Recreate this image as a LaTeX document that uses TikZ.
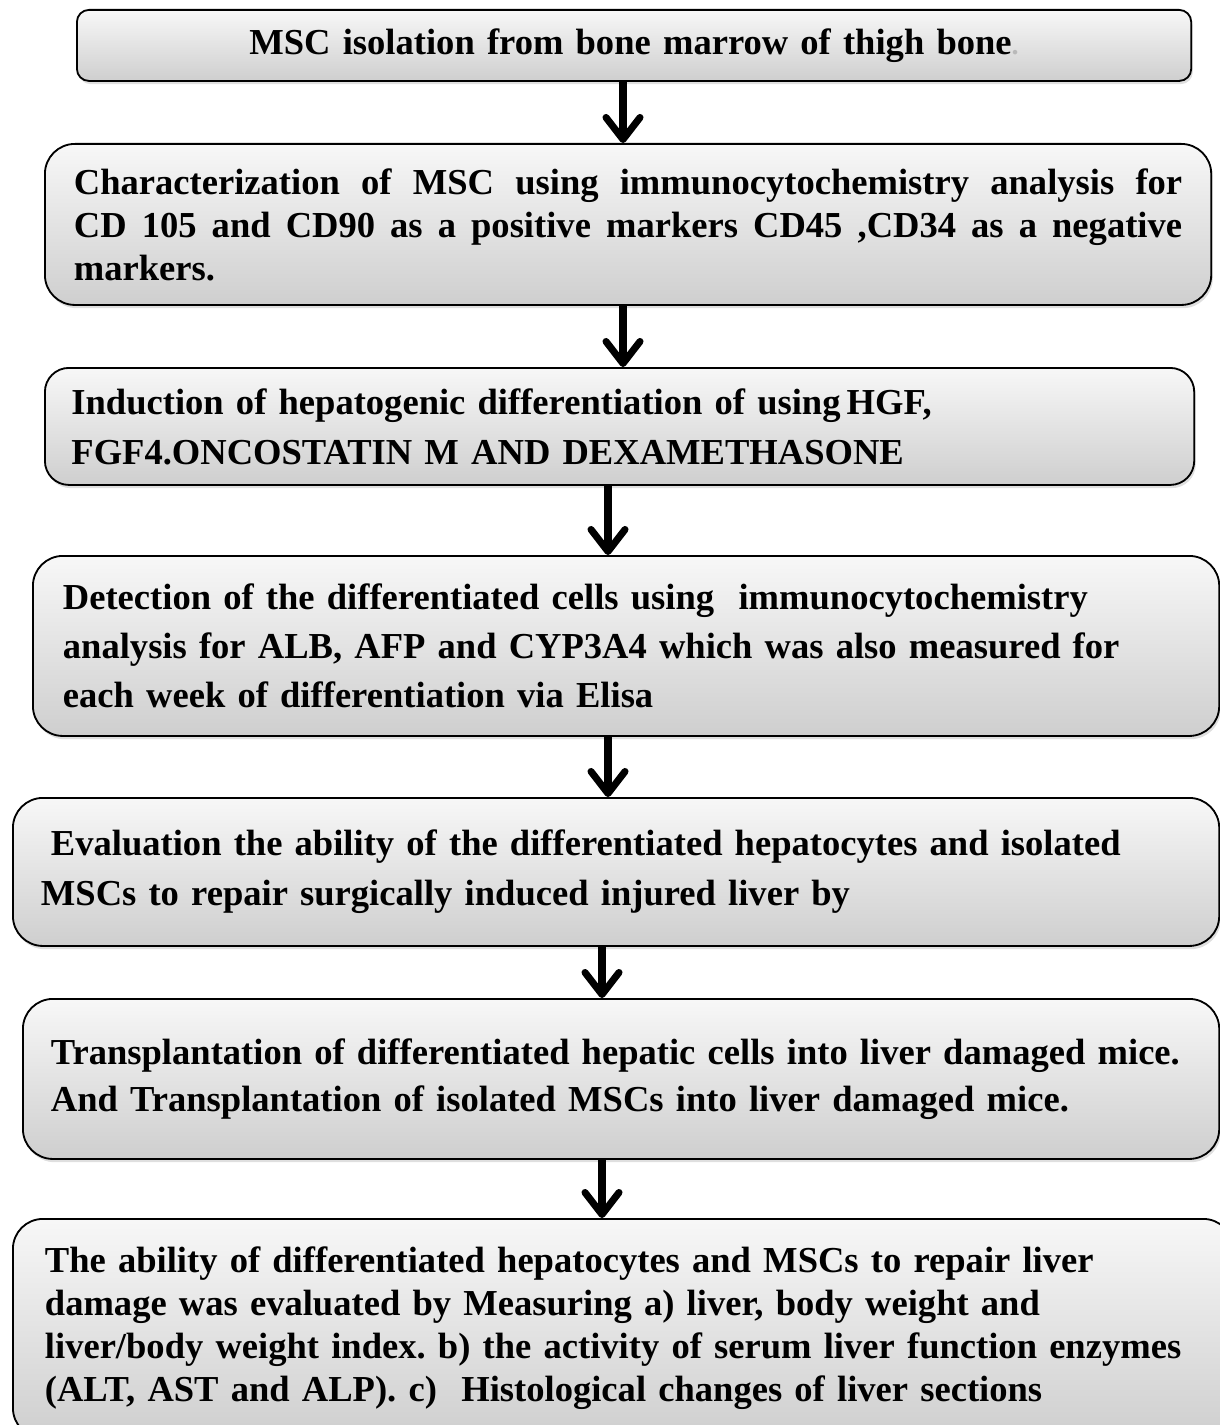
\documentclass[tikz,border=0pt]{standalone}
\usepackage{fontspec}
\setmainfont{Liberation Serif}
\frenchspacing
\usetikzlibrary{arrows.meta,shadows}

\begin{document}
\begin{tikzpicture}[
  x=0.025cm, y=-0.025cm,
  stepbox/.style={draw, line width=1.3pt, top color=gray!6, bottom color=gray!38,
    drop shadow={opacity=0.25, shadow xshift=0.04cm, shadow yshift=-0.08cm},
    anchor=north west, inner ysep=0pt, align=left, text=black,
    font=\bfseries\fontsize{26}{33}\selectfont},
  flow/.style={line width=5pt, -{Straight Barb[round,length=0.55cm,width=0.85cm]}}
]
  \useasboundingbox (0,0) rectangle (1220,1425);
  \node[stepbox, rounded corners=0.3cm, minimum width=27.85cm, minimum height=1.775cm,
    text width=26.5cm, align=center] (isolate) at (76,9)
    {\raisebox{-0.08cm}{MSC isolation from bone marrow of thigh bone{\color{gray!55}\fontsize{20}{20}\selectfont.}}};
  \node[stepbox, rounded corners=0.75cm, minimum width=29.15cm, minimum height=4.025cm,
    inner xsep=0.725cm, text width=27.7cm, align=justify,
    font=\bfseries\fontsize{26}{30.6}\selectfont] (charact) at (44,143)
    {Characterization of MSC using immunocytochemistry analysis for\linebreak
     CD 105 and CD90 as a positive markers CD45 ,CD34 as a negative\linebreak
     markers.};
  \node[stepbox, rounded corners=0.6cm, minimum width=28.725cm, minimum height=2.925cm,
    inner xsep=0.65cm, text width=27.4cm,
    font=\bfseries\fontsize{26}{35.6}\selectfont] (induct) at (44,367)
    {Induction of hepatogenic differentiation of using\,HGF,\\
     FGF4.ONCOSTATIN M AND DEXAMETHASONE};
  \node[stepbox, rounded corners=0.75cm, minimum width=29.65cm, minimum height=4.5cm,
    inner xsep=0.75cm, text width=28.15cm,
    font=\bfseries\fontsize{26}{34.9}\selectfont] (detect) at (32,555)
    {Detection of the differentiated cells using \ immunocytochemistry\\
     analysis for ALB, AFP and CYP3A4 which was also measured for\\
     each week of differentiation via Elisa};
  \node[stepbox, rounded corners=0.75cm, minimum width=30.15cm, minimum height=3.7cm,
    inner xsep=0.7cm, text width=28.75cm,
    font=\bfseries\fontsize{26}{35.6}\selectfont] (evaluate) at (12,797)
    {\hspace*{0.25cm}Evaluation the ability of the differentiated hepatocytes and isolated\\
     MSCs to repair surgically induced injured liver by};
  \node[stepbox, rounded corners=0.75cm, minimum width=29.9cm, minimum height=4cm,
    inner xsep=0.7cm, text width=28.5cm,
    font=\bfseries\fontsize{26}{33.4}\selectfont] (transplant) at (22,998)
    {Transplantation of differentiated hepatic cells into liver damaged mice.\\
     And Transplantation of isolated MSCs into liver damaged mice.};
  \node[stepbox, rounded corners=0.75cm, minimum width=30.5cm, minimum height=5.475cm,
    inner xsep=0.775cm, text width=28.9cm,
    font=\bfseries\fontsize{26}{30.6}\selectfont] (measure) at (12,1218)
    {The ability of differentiated hepatocytes and MSCs to repair liver\\
     damage was evaluated by Measuring a) liver, body weight and\\
     liver/body weight index. b) the activity of serum liver function enzymes\\
     (ALT, AST and ALP). c) \ Histological changes of liver sections};
  \coordinate (ax1) at (623,0);
  \coordinate (ax2) at (608,0);
  \coordinate (ax3) at (602,0);
  \draw[flow] (isolate.south -| ax1) -- (charact.north -| ax1);
  \draw[flow] (charact.south -| ax1) -- (induct.north -| ax1);
  \draw[flow] (induct.south -| ax2) -- (detect.north -| ax2);
  \draw[flow] (detect.south -| ax2) -- (evaluate.north -| ax2);
  \draw[flow] (evaluate.south -| ax3) -- (transplant.north -| ax3);
  \draw[flow] (transplant.south -| ax3) -- (measure.north -| ax3);
\end{tikzpicture}
\end{document}
